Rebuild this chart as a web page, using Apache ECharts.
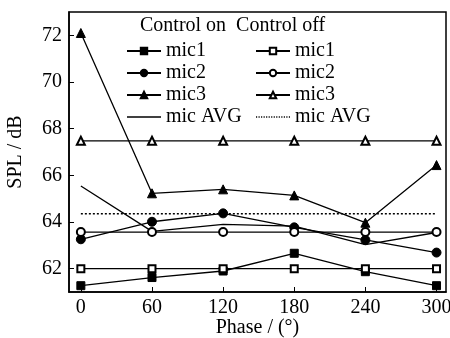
<!DOCTYPE html>
<html>
<head>
<meta charset="utf-8">
<script src="https://cdn.jsdelivr.net/npm/echarts@6/dist/echarts.min.js"></script>
<style>
  html, body { margin: 0; padding: 0; background: #fff; }
  #chart { width: 450px; height: 338px; }
</style>
</head>
<body>
<div id="chart"></div>
<script>
const phases = [0, 60, 120, 180, 240, 300];
const xTicks = [0, 60, 120, 180, 240, 300];
const yTicks = [62, 64, 66, 68, 70, 72];

// control on
const mic1On = [61.27, 61.62, 61.9, 62.66, 61.87, 61.27];
const mic2On = [63.26, 64.01, 64.37, 63.77, 63.23, 62.69];
const mic3On = [72.1, 65.23, 65.4, 65.14, 63.97, 66.44];
const avgOn = [65.54, 63.6, 63.9, 63.82, 63.03, 63.55];

// control off
const mic1Off = [62, 62, 62, 62, 62, 62];
const mic2Off = [63.57, 63.57, 63.57, 63.57, 63.57, 63.57];
const mic3Off = [67.48, 67.48, 67.48, 67.48, 67.48, 67.48];
const avgOff = [64.35, 64.35, 64.35, 64.35, 64.35, 64.35];

const chart = echarts.init(document.getElementById('chart'));
const font = 'Liberation Serif';
const pair = arr => phases.map((p, i) => [p, arr[i]]);

// legend icons for the plain lines
const solidIcon = 'path://M0,0H34V1.3H0Z';
let dots = '';
for (let x = 0; x < 34; x += 2.6) dots += 'M' + x + ',0H' + (x + 1.2) + 'V1.3H' + x + 'Z';
const dotIcon = 'path://' + dots;
const flatStyle = { color: '#000', borderWidth: 0 };

const mk = (name, data, symbol, extra) => Object.assign({
  name: name, type: 'line', data: pair(data),
  symbol: symbol, symbolSize: 8, showSymbol: symbol !== 'none',
  lineStyle: { color: '#000', width: 1.3 },
  itemStyle: { color: '#000', borderColor: '#000', borderWidth: 1 },
  emphasis: { disabled: true }
}, extra || {});

const legendBase = {
  orient: 'vertical', itemWidth: 34, itemHeight: 8, itemGap: 2,
  symbolKeepAspect: true,
  textStyle: { fontFamily: font, fontSize: 20, color: '#000' },
  formatter: n => n.replace(/ \(o(n|ff)\)$/, ''),
  selectedMode: false
};

chart.setOption({
  backgroundColor: '#fff',
  animation: false,
  grid: {
    left: 69, right: 4, top: 12, bottom: 46, containLabel: false, outerBoundsMode: 'none',
    show: true, borderColor: '#000', borderWidth: 1.5
  },
  graphic: [
    { type: 'text', left: 140, top: 16, style: { text: 'Control on  Control off', font: '20px "Liberation Serif"', fill: '#000' } }
  ],
  legend: [
    Object.assign({}, legendBase, { left: 121, top: 36, data: ['mic1 (on)', 'mic2 (on)', 'mic3 (on)', { name: 'mic AVG (on)', icon: solidIcon, itemStyle: flatStyle }] }),
    Object.assign({}, legendBase, { left: 250, top: 36, data: ['mic1 (off)', 'mic2 (off)', 'mic3 (off)', { name: 'mic AVG (off)', icon: dotIcon, itemStyle: flatStyle }] })
  ],
  xAxis: {
    type: 'value', min: -10, max: 308,
    name: 'Phase / (°)', nameLocation: 'middle', nameGap: 26, nameMoveOverlap: false,
    nameTextStyle: { fontFamily: font, fontSize: 20, color: '#000' },
    axisLine: { show: true, onZero: false, lineStyle: { color: '#000', width: 1.5 } },
    axisTick: { inside: true, length: 5, lineStyle: { color: '#000' }, customValues: xTicks },
    axisLabel: { fontFamily: font, fontSize: 20, color: '#000', margin: 6, customValues: xTicks },
    splitLine: { show: false }
  },
  yAxis: {
    type: 'value', min: 61, max: 73,
    name: 'SPL / dB', nameLocation: 'middle', nameGap: 43, nameRotate: 90, nameMoveOverlap: false,
    nameTextStyle: { fontFamily: font, fontSize: 20, color: '#000' },
    axisLine: { show: true, onZero: false, lineStyle: { color: '#000', width: 1.5 } },
    axisTick: { inside: true, length: 5, lineStyle: { color: '#000' }, customValues: yTicks },
    axisLabel: { fontFamily: font, fontSize: 20, color: '#000', margin: 7, customValues: yTicks },
    splitLine: { show: false }
  },
  series: [
    mk('mic1 (on)', mic1On, 'rect'),
    mk('mic2 (on)', mic2On, 'circle', { symbolSize: 9 }),
    mk('mic3 (on)', mic3On, 'triangle', { symbolSize: 9 }),
    mk('mic AVG (on)', avgOn, 'none'),
    mk('mic1 (off)', mic1Off, 'emptyRect', { symbolSize: 7 }),
    mk('mic2 (off)', mic2Off, 'emptyCircle', { symbolSize: 8 }),
    mk('mic3 (off)', mic3Off, 'emptyTriangle', { symbolSize: 8 }),
    mk('mic AVG (off)', avgOff, 'none', { lineStyle: { color: '#000', width: 1.5, type: [2, 2] } })
  ]
});
</script>
</body>
</html>
